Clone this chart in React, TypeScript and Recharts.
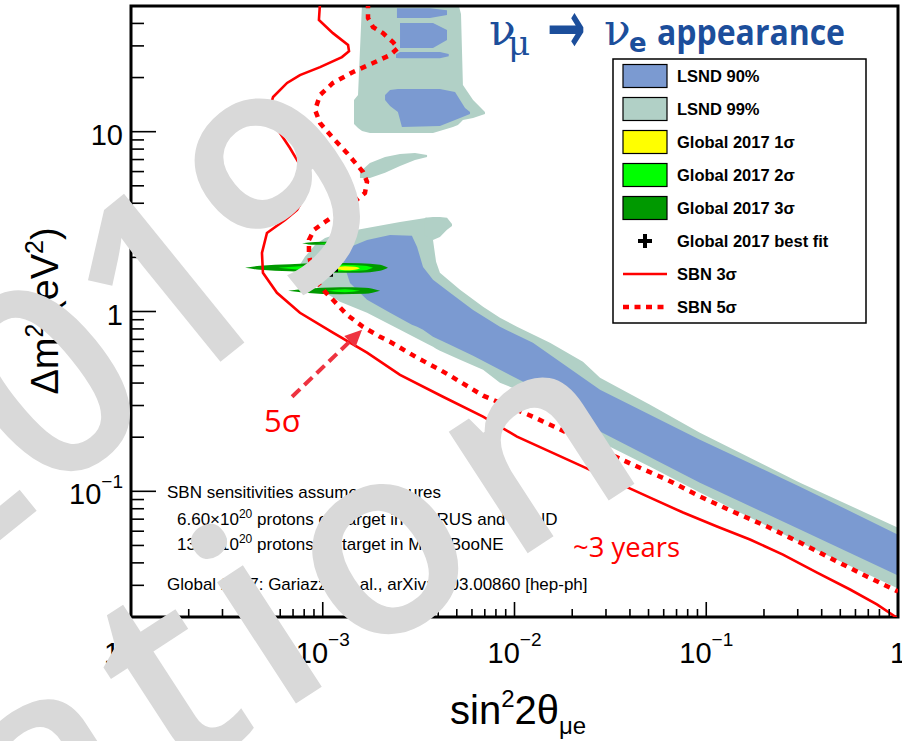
import React from 'react';
import { ComposedChart, Area, Line, Scatter, XAxis, YAxis, ReferenceArea } from 'recharts';

// all values below as log10(sin^2 2theta), log10(dm^2)
type P2 = [number, number];
type P3 = [number, number, number]; // [log x, log y low, log y high]

const sbn3Sigma: P2[] = [
  [-3.014, 1.72], [-3.02, 1.621], [-2.947, 1.548], [-2.868, 1.482], [-2.863, 1.448], [-2.9, 1.415],
  [-3.014, 1.359], [-3.119, 1.315], [-3.186, 1.271], [-3.259, 1.193], [-3.28, 1.121], [-3.264, 1.048],
  [-3.223, 0.993], [-3.171, 0.909], [-3.119, 0.815], [-3.093, 0.704], [-3.098, 0.632], [-3.134, 0.565],
  [-3.197, 0.509], [-3.291, 0.437], [-3.317, 0.326], [-3.312, 0.215], [-3.239, 0.104], [-3.119, -0.007],
  [-2.947, -0.118], [-2.769, -0.229], [-2.597, -0.352], [-2.373, -0.474], [-2.164, -0.585], [-1.987, -0.696],
  [-1.815, -0.779], [-1.643, -0.863], [-1.465, -0.952], [-1.293, -1.035], [-1.121, -1.118], [-0.944, -1.196],
  [-0.772, -1.268], [-0.6, -1.352], [-0.422, -1.452], [-0.25, -1.546], [-0.11, -1.629], [0, -1.707],
];

const sbn5Sigma: P2[] = [
  [-2.764, 1.72], [-2.764, 1.632], [-2.738, 1.582], [-2.686, 1.548], [-2.634, 1.498], [-2.608, 1.465],
  [-2.649, 1.426], [-2.738, 1.382], [-2.842, 1.332], [-2.947, 1.271], [-3.014, 1.204], [-3.04, 1.121],
  [-3.014, 1.048], [-2.952, 0.971], [-2.874, 0.882], [-2.79, 0.776], [-2.769, 0.721], [-2.78, 0.659],
  [-2.842, 0.604], [-2.91, 0.554], [-2.988, 0.498], [-3.046, 0.454], [-3.072, 0.398], [-3.072, 0.315],
  [-3.056, 0.232], [-3.03, 0.165], [-2.988, 0.109], [-2.947, 0.065], [-2.874, -0.018], [-2.79, -0.085],
  [-2.701, -0.141], [-2.649, -0.168], [-2.508, -0.257], [-2.389, -0.324], [-2.336, -0.357], [-2.164, -0.468],
  [-1.904, -0.585], [-1.726, -0.674], [-1.554, -0.768], [-1.382, -0.852], [-1.205, -0.935], [-1.033, -1.029],
  [-0.86, -1.113], [-0.683, -1.196], [-0.511, -1.285], [-0.339, -1.379], [-0.162, -1.474], [0, -1.557],
];

const lsnd99Main: P3[] = [
  [-3.129, 0.243, 0.243], [-3.093, 0.187, 0.304], [-3.04, 0.143, 0.371], [-2.988, 0.104, 0.409],
  [-2.91, 0.054, 0.437], [-2.769, -0.007, 0.465], [-2.597, -0.102, 0.498], [-2.456, -0.179, 0.521],
  [-2.425, -0.196, 0.398], [-2.409, -0.207, 0.276], [-2.389, -0.218, 0.215], [-2.284, -0.268, 0.121],
  [-2.164, -0.324, 0.026], [-2.076, -0.396, -0.035], [-1.987, -0.435, -0.085], [-1.815, -0.546, -0.174],
  [-1.643, -0.657, -0.279], [-1.554, -0.724, -0.368], [-1.293, -0.863, -0.518], [-1.033, -1.007, -0.674],
  [-0.511, -1.285, -0.952], [0, -1.541, -1.202],
];
const lsnd99Tip: P3[] = [
  [-2.467, 0.421, 0.521], [-2.425, 0.398, 0.526], [-2.389, 0.415, 0.526], [-2.352, 0.454, 0.521], [-2.326, 0.476, 0.487],
];
const lsnd99Upper: P3[] = [
  [-2.837, 1.043, 1.176], [-2.816, 1.021, 1.204], [-2.795, 1.004, 1.72], [-2.754, 0.993, 1.72],
  [-2.425, 0.993, 1.72], [-2.321, 1.026, 1.72], [-2.295, 1.037, 1.72], [-2.279, 1.054, 1.654],
  [-2.269, 1.065, 1.259], [-2.216, 1.076, 1.176], [-2.154, 1.098, 1.109],
];
const lsnd99Sliver: P3[] = [
  [-2.806, 0.743, 0.776], [-2.754, 0.743, 0.826], [-2.675, 0.771, 0.859], [-2.597, 0.809, 0.876],
  [-2.519, 0.843, 0.882], [-2.456, 0.859, 0.871],
];

const lsnd90Main: P3[] = [
  [-2.9, 0.298, 0.309], [-2.858, 0.159, 0.359], [-2.769, 0.065, 0.398], [-2.649, -0.007, 0.426],
  [-2.535, -0.074, 0.421], [-2.508, -0.085, 0.359], [-2.477, -0.102, 0.248], [-2.425, -0.141, 0.176],
  [-2.336, -0.185, 0.104], [-2.216, -0.246, 0.009], [-2.076, -0.324, -0.085], [-1.904, -0.418, -0.174],
  [-1.554, -0.668, -0.435], [-1.033, -0.952, -0.713], [-0.511, -1.213, -0.974], [0, -1.468, -1.241],
];
// LSND 90% patches inside the upper island (three strips separated by white jags)
const lsnd90TopA: P3[] = [[-2.613, 1.632, 1.687], [-2.441, 1.632, 1.687], [-2.352, 1.649, 1.676]];
const lsnd90TopB: P3[] = [[-2.597, 1.465, 1.604], [-2.425, 1.465, 1.604], [-2.352, 1.51, 1.565]];
const lsnd90TopC: P3[] = [[-2.618, 1.41, 1.43], [-2.597, 1.409, 1.443], [-2.389, 1.409, 1.443], [-2.343, 1.42, 1.432]];
const lsnd90Mid: P3[] = [
  [-2.675, 1.176, 1.204], [-2.649, 1.143, 1.232], [-2.608, 1.109, 1.237], [-2.587, 1.026, 1.237],
  [-2.389, 1.032, 1.237], [-2.31, 1.065, 1.221], [-2.258, 1.087, 1.132], [-2.232, 1.098, 1.109],
];

const global3SigmaA: P3[] = [
  [-3.405, 0.2428, 0.2428], [-3.327, 0.2317, 0.2539], [-3.171, 0.2233, 0.2622], [-2.962, 0.215, 0.2706],
  [-2.806, 0.215, 0.2678], [-2.701, 0.2261, 0.2594], [-2.66, 0.2428, 0.2428],
];
const global2SigmaA: P3[] = [
  [-3.233, 0.2428, 0.2428], [-3.119, 0.2317, 0.2511], [-2.91, 0.2233, 0.2594], [-2.78, 0.2289, 0.2539], [-2.738, 0.2428, 0.2428],
];
const global1SigmaA: P3[] = [
  [-2.947, 0.24, 0.24], [-2.884, 0.2289, 0.2511], [-2.832, 0.2317, 0.2483], [-2.806, 0.24, 0.24],
];
const global3SigmaB: P3[] = [
  [-3.181, 0.115, 0.115], [-3.093, 0.104, 0.126], [-2.91, 0.0956, 0.1344], [-2.78, 0.0983, 0.1317], [-2.701, 0.115, 0.115],
];
const global2SigmaB: P3[] = [
  [-2.978, 0.115, 0.115], [-2.884, 0.1067, 0.1233], [-2.806, 0.115, 0.115],
];
const global3SigmaC: P3[] = [
  [-3.108, 0.38, 0.38], [-3.04, 0.3706, 0.387], [-2.962, 0.3717, 0.3883], [-2.894, 0.38, 0.38],
];
const global2SigmaC: P3[] = [
  [-3.025, 0.38, 0.38], [-2.98, 0.3772, 0.3828], [-2.936, 0.38, 0.38],
];

const bestFit: P2[] = [[-2.957, 0.232]];
const arrowShaft: P2[] = [[-3.16, -0.474], [-2.833, -0.14]];
const arrowTip: P2[] = [[-2.795, -0.102]];

const xMajorTicks = [1e-4, 1e-3, 1e-2, 0.1, 1];
const xMinorTicks = [2e-4, 3e-4, 4e-4, 5e-4, 6e-4, 7e-4, 8e-4, 9e-4, 2e-3, 3e-3, 4e-3, 5e-3, 6e-3, 7e-3, 8e-3, 9e-3,
  2e-2, 3e-2, 4e-2, 5e-2, 6e-2, 7e-2, 8e-2, 9e-2, 0.2, 0.3, 0.4, 0.5, 0.6, 0.7, 0.8, 0.9];
const yMajorTicks = [0.1, 1, 10];
const yMinorTicks = [0.02, 0.03, 0.04, 0.05, 0.06, 0.07, 0.08, 0.09, 0.2, 0.3, 0.4, 0.5, 0.6, 0.7, 0.8, 0.9,
  2, 3, 4, 5, 6, 7, 8, 9, 20, 30, 40];

const legendRows = [
  { label: 'LSND 90%', kind: 'box', color: '#7B9AD1' },
  { label: 'LSND 99%', kind: 'box', color: '#B1D0C6' },
  { label: 'Global 2017 1σ', kind: 'box', color: '#FFFF00' },
  { label: 'Global 2017 2σ', kind: 'box', color: '#00FF00' },
  { label: 'Global 2017 3σ', kind: 'box', color: '#009900' },
  { label: 'Global 2017 best fit', kind: 'cross', color: '#000' },
  { label: 'SBN 3σ', kind: 'line', color: '#FF0000' },
  { label: 'SBN 5σ', kind: 'dots', color: '#FF0000' },
];

const BLUE = '#7B9AD1';
const TEAL = '#B1D0C6';
const RED = '#FF0000';
const SANS = '"Liberation Sans", Arial, Helvetica, sans-serif';
const TICK_LINE = { stroke: '#000', strokeWidth: 1.6 };
const MAIN = 'zMain';
const MINOR = 'aMinor';

const pts = (rows: P2[]) => rows.map(([lx, ly]) => ({ x: 10 ** lx, y: 10 ** ly }));
const band = (rows: P3[]) => rows.map(([lx, lo, hi]) => ({ x: 10 ** lx, y: [10 ** lo, 10 ** hi] }));

const XTick = (props: any) => {
  const { x, y, payload } = props;
  const e = Math.round(Math.log10(payload.value));
  return (
    <text x={x} y={y + 45} textAnchor="middle" fontSize={29} fontFamily={SANS} fill="#000">
      {e === 0 ? '1' : (
        <>
          <tspan>10</tspan>
          <tspan dy={-17} fontSize={19}>{'\u2212' + -e}</tspan>
        </>
      )}
    </text>
  );
};

const YTick = (props: any) => {
  const { x, y, payload } = props;
  const e = Math.round(Math.log10(payload.value));
  return (
    <text x={x - 7} y={y + 13} textAnchor="end" fontSize={29} fontFamily={SANS} fill="#000">
      {e >= 0 ? String(10 ** e) : (
        <>
          <tspan>10</tspan>
          <tspan dy={-16} fontSize={19}>{'\u2212' + -e}</tspan>
        </>
      )}
    </text>
  );
};

const CrossShape = (p: any) => (
  <g>
    <line x1={p.cx - 7} x2={p.cx + 7} y1={p.cy} y2={p.cy} stroke="#000" strokeWidth={4} />
    <line x1={p.cx} x2={p.cx} y1={p.cy - 7} y2={p.cy + 7} stroke="#000" strokeWidth={4} />
  </g>
);

const ArrowHead = (p: any) => (
  <polygon
    points={`${p.cx},${p.cy} ${p.cx - 17},${p.cy - 8} ${p.cx - 17},${p.cy + 8}`}
    fill="#EE3340"
    transform={`rotate(-44 ${p.cx} ${p.cy})`}
  />
);

const rangeArea = (key: string, rows: P3[], color: string, curve: 'linear' | 'monotone' = 'linear') => (
  <Area
    key={key}
    xAxisId={MAIN}
    yAxisId={MAIN}
    data={band(rows)}
    dataKey="y"
    type={curve}
    stroke="none"
    fill={color}
    fillOpacity={1}
    dot={false}
    activeDot={false}
    isAnimationActive={false}
  />
);

const LegendBox = () => (
  <g>
    <rect x={613} y={59} width={253} height={264} fill="#fff" stroke="#000" strokeWidth={1.5} />
    {legendRows.map((r, i) => {
      const cy = 76 + i * 33;
      return (
        <g key={r.label}>
          {r.kind === 'box' && (
            <rect x={623} y={cy - 11.5} width={44} height={23} fill={r.color} stroke="#000" strokeWidth={1.2} />
          )}
          {r.kind === 'cross' && (
            <g>
              <line x1={638} x2={652} y1={cy} y2={cy} stroke="#000" strokeWidth={4} />
              <line x1={645} x2={645} y1={cy - 7} y2={cy + 7} stroke="#000" strokeWidth={4} />
            </g>
          )}
          {r.kind === 'line' && <line x1={623} x2={667} y1={cy} y2={cy} stroke={r.color} strokeWidth={2.6} />}
          {r.kind === 'dots' && (
            <line x1={623} x2={667} y1={cy} y2={cy} stroke={r.color} strokeWidth={4.5} strokeDasharray="6 5.5" />
          )}
          <text x={677} y={cy + 6} fontSize={16.5} fontWeight="bold" fontFamily={SANS} fill="#000">
            {r.label}
          </text>
        </g>
      );
    })}
  </g>
);

export default function App() {
  return (
    <div style={{ position: 'absolute', left: 0, top: 0, width: 902, height: 741, background: '#fff', fontFamily: SANS }}>
      <ComposedChart width={902} height={741} margin={{ top: 6, right: 4, bottom: 0, left: 0 }}>
        <XAxis
          xAxisId={MAIN}
          type="number"
          dataKey="x"
          scale="log"
          domain={[1e-4, 1]}
          allowDataOverflow
          ticks={xMajorTicks}
          interval={0}
          height={123}
          tickSize={-16}
          tickMargin={16}
          tickLine={TICK_LINE}
          axisLine={false}
          tick={<XTick />}
        />
        <YAxis
          yAxisId={MAIN}
          type="number"
          scale="log"
          domain={[0.02, 50]}
          allowDataOverflow
          ticks={yMajorTicks}
          interval={0}
          width={130}
          tickSize={-26}
          tickMargin={26}
          tickLine={TICK_LINE}
          axisLine={false}
          tick={<YTick />}
        />
        {/* minor ticks: 1px axes sitting right on the frame */}
        <XAxis
          xAxisId={MINOR}
          type="number"
          dataKey="x"
          scale="log"
          domain={[1e-4, 1]}
          allowDataOverflow
          ticks={xMinorTicks}
          interval={0}
          height={1}
          tickSize={-8}
          tickMargin={0}
          tickLine={TICK_LINE}
          axisLine={false}
          tick={<g />}
        />
        <YAxis
          yAxisId={MINOR}
          type="number"
          scale="log"
          domain={[0.02, 50]}
          allowDataOverflow
          ticks={yMinorTicks}
          interval={0}
          width={1}
          tickSize={-13}
          tickMargin={0}
          tickLine={TICK_LINE}
          axisLine={false}
          tick={<g />}
        />
        {rangeArea('t1', lsnd99Main, TEAL)}
        {rangeArea('t2', lsnd99Tip, TEAL)}
        {rangeArea('t3', lsnd99Upper, TEAL)}
        {rangeArea('t4', lsnd99Sliver, TEAL)}
        {rangeArea('b1', lsnd90Main, BLUE)}
        {rangeArea('b2', lsnd90TopA, BLUE)}
        {rangeArea('b3', lsnd90TopB, BLUE)}
        {rangeArea('b4', lsnd90TopC, BLUE)}
        {rangeArea('b5', lsnd90Mid, BLUE)}
        {rangeArea('g3a', global3SigmaA, '#009900', 'monotone')}
        {rangeArea('g2a', global2SigmaA, '#00FF00', 'monotone')}
        {rangeArea('g1a', global1SigmaA, '#FFFF00', 'monotone')}
        {rangeArea('g3b', global3SigmaB, '#009900', 'monotone')}
        {rangeArea('g2b', global2SigmaB, '#00FF00', 'monotone')}
        {rangeArea('g3c', global3SigmaC, '#009900', 'monotone')}
        {rangeArea('g2c', global2SigmaC, '#00FF00', 'monotone')}
        <Line xAxisId={MAIN} yAxisId={MAIN} data={pts(sbn3Sigma)} dataKey="y" type="linear" stroke={RED} strokeWidth={2.6} dot={false} activeDot={false} isAnimationActive={false} />
        <Line xAxisId={MAIN} yAxisId={MAIN} data={pts(sbn5Sigma)} dataKey="y" type="linear" stroke={RED} strokeWidth={4.5} strokeDasharray="6 6" dot={false} activeDot={false} isAnimationActive={false} />
        <Line xAxisId={MAIN} yAxisId={MAIN} data={pts(arrowShaft)} dataKey="y" type="linear" stroke="#EE3340" strokeWidth={4} strokeDasharray="11 6" dot={false} activeDot={false} isAnimationActive={false} />
        <Scatter xAxisId={MAIN} yAxisId={MAIN} data={pts(arrowTip)} dataKey="y" shape={<ArrowHead />} isAnimationActive={false} />
        <Scatter xAxisId={MAIN} yAxisId={MAIN} data={pts(bestFit)} dataKey="y" shape={<CrossShape />} isAnimationActive={false} />
        <ReferenceArea xAxisId={MAIN} yAxisId={MAIN} x1={1e-4} x2={1} y1={0.02} y2={50} fill="none" stroke="#000" strokeWidth={3} ifOverflow="visible" />
      </ComposedChart>

      <svg width={902} height={741} style={{ position: 'absolute', left: 0, top: 0, pointerEvents: 'none' }}>
        {/* title */}
        <g fill="#1C4E9B">
          <text x={489} y={45} fontSize={44} fontFamily='"DejaVu Serif", serif'>ν</text>
          <text x={508} y={55} fontSize={34} fontFamily='"DejaVu Serif", serif'>μ</text>
          <text transform="translate(547 53) scale(1 1.6)" fontSize={46} fontWeight="bold" fontFamily='"DejaVu Sans", sans-serif'>→</text>
          <text x={604} y={45} fontSize={44} fontFamily='"DejaVu Serif", serif'>ν</text>
          <text x={629} y={52} fontSize={26} fontWeight="bold" fontFamily='"DejaVu Sans", sans-serif'>e</text>
          <text x={657} y={45} fontSize={36} fontWeight="bold" fontFamily='"Open Sans", sans-serif' textLength={188} lengthAdjust="spacingAndGlyphs">appearance</text>
        </g>

        <LegendBox />

        {/* notes */}
        <g fontFamily={SANS} fontSize={17} fill="#000">
          <text x={167} y={498}>SBN sensitivities assume exposures</text>
          <text x={177} y={525}>
            6.60×10<tspan dy={-7} fontSize={12}>20</tspan><tspan dy={7}> protons on target in ICARUS and SBND</tspan>
          </text>
          <text x={177} y={550}>
            13.2×10<tspan dy={-7} fontSize={12}>20</tspan><tspan dy={7}> protons on target in MicroBooNE</tspan>
          </text>
          <text x={167} y={590}>Global 2017: Gariazzo et al., arXiv:1703.00860 [hep-ph]</text>
        </g>
        <text x={264} y={432} fontSize={31} fontFamily='"Open Sans", sans-serif' fill={RED}>5σ</text>
        <text x={573} y={557} fontSize={28} fontFamily='"Open Sans", sans-serif' fill={RED} textLength={107} lengthAdjust="spacingAndGlyphs">~3 years</text>

        {/* axis titles */}
        <text x={450} y={724} fontSize={40} fontFamily={SANS} fill="#000">
          sin<tspan dy={-17} fontSize={24}>2</tspan><tspan dy={17}>2θ</tspan><tspan dy={10} fontSize={24}>μe</tspan>
        </text>
        <text transform="rotate(-90)" x={-311} y={58} textAnchor="middle" fontSize={38} fontFamily={SANS} fill="#000">
          Δm<tspan dy={-15} fontSize={25}>2</tspan><tspan dy={15}> (eV</tspan><tspan dy={-15} fontSize={25}>2</tspan><tspan dy={15}>)</tspan>
        </text>

        {/* watermark */}
        <g fill="#D9D9D9" fontFamily='"Open Sans", sans-serif' fontWeight={600}>
          <text x={403} y={214} fontSize={268} textAnchor="end" transform="rotate(-39 403 214)">2019</text>
          <text x={668} y={462} fontSize={268} letterSpacing={19} textAnchor="end" transform="rotate(-33 668 462)">presentation</text>
        </g>
      </svg>
    </div>
  );
}
